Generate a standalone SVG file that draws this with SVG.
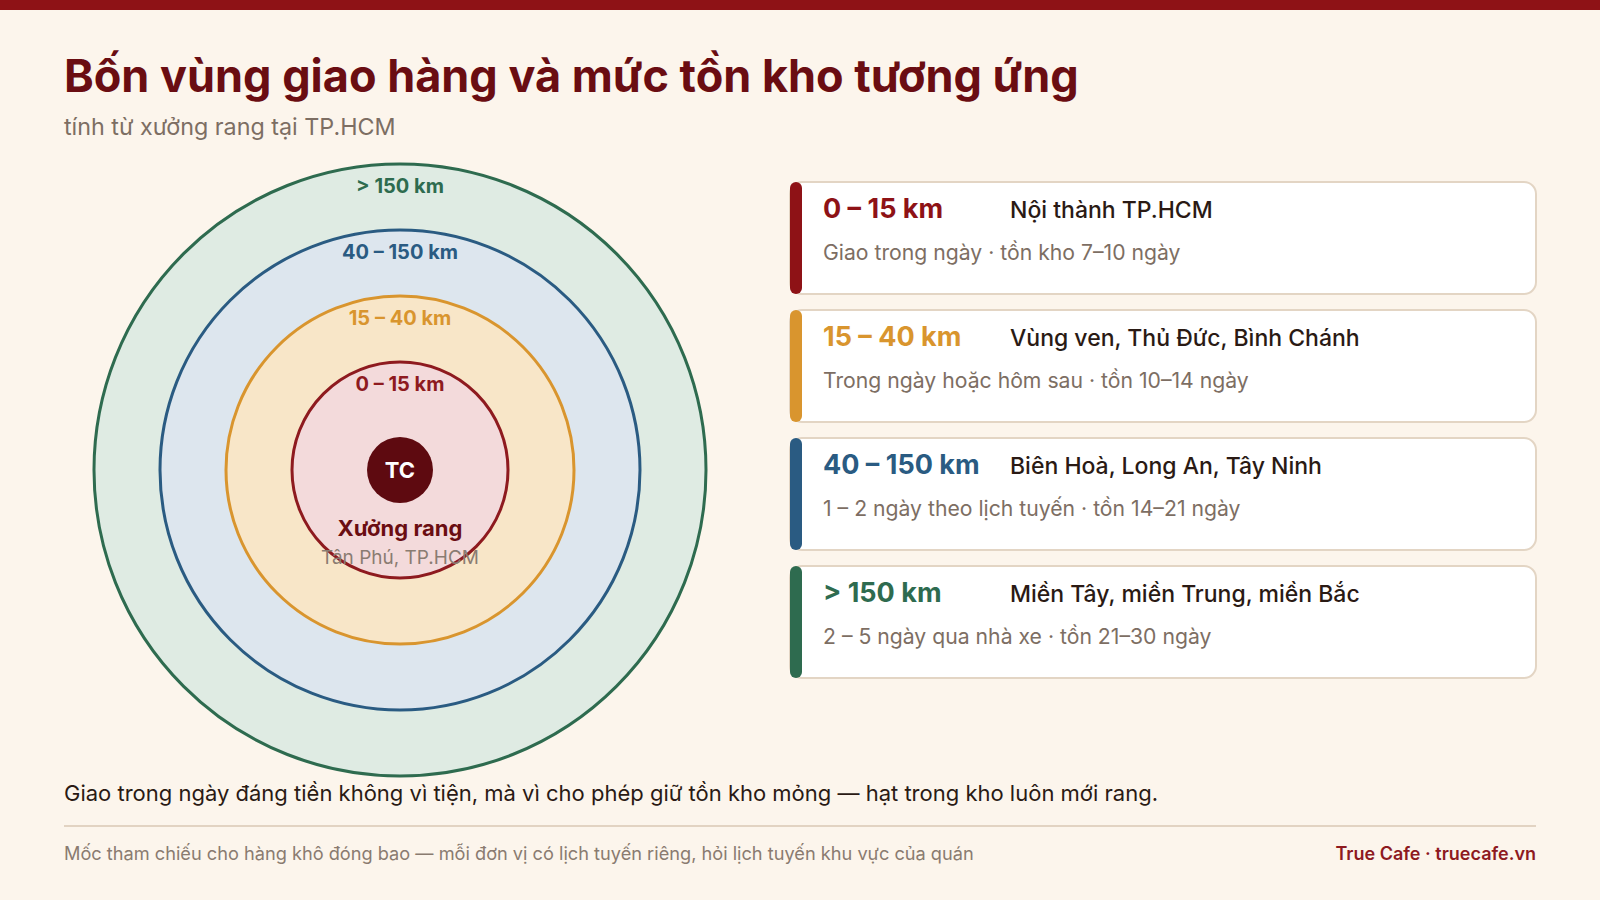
<svg xmlns="http://www.w3.org/2000/svg" width="1600" height="900" viewBox="0 0 1600 900">
  <style>
    text { font-family: Inter, "Liberation Sans", "Noto Sans", sans-serif; }
    .title { font-size: 45px; font-weight: 700; fill: #6a0d12; }
    .sub { font-size: 23.3px; fill: #7d6e63; }
    .ring { font-size: 20px; font-weight: 700; text-anchor: middle; }
    .km { font-size: 27px; font-weight: 700; }
    .name { font-size: 23px; font-weight: 500; fill: #2a1a14; }
    .detail { font-size: 21.2px; fill: #7d6e63; }
    .card { fill: #ffffff; stroke: #e3d5c4; stroke-width: 2; }
    .stmt { font-size: 22px; fill: #2a1a14; }
    .foot { font-size: 18.2px; fill: #8a7b70; }
    .brand { font-size: 18px; font-weight: 600; fill: #8e1a1f; text-anchor: end; }
  </style>
  <rect x="0" y="0" width="1600" height="900" fill="#fcf5ec"/>
  <rect x="0" y="0" width="1600" height="10" fill="#8e1216"/>

  <text class="title" x="64" y="92">Bốn vùng giao hàng và mức tồn kho tương ứng</text>
  <text class="sub" x="64" y="135">tính từ xưởng rang tại TP.HCM</text>

  <g id="zone-far">
    <circle cx="400" cy="470" r="306" fill="#dfebe3" stroke="#2e6b4f" stroke-width="3"/>
    <text class="ring" x="400" y="193" fill="#2e6b4f">&gt; 150 km</text>
  </g>
  <g id="zone-region">
    <circle cx="400" cy="470" r="240" fill="#dde6ee" stroke="#2a5b82" stroke-width="3"/>
    <text class="ring" x="400" y="259" fill="#2a5b82">40 – 150 km</text>
  </g>
  <g id="zone-suburb">
    <circle cx="400" cy="470" r="174" fill="#f8e6c8" stroke="#d9952e" stroke-width="3"/>
    <text class="ring" x="400" y="325" fill="#d9952e">15 – 40 km</text>
  </g>
  <g id="zone-inner">
    <circle cx="400" cy="470" r="108" fill="#f3dadb" stroke="#8e1a1f" stroke-width="3"/>
    <text class="ring" x="400" y="391" fill="#8e1a1f">0 – 15 km</text>
  </g>
  <g id="roastery">
    <circle cx="400" cy="470" r="33" fill="#5e0a10"/>
    <text x="400" y="478" font-size="22" font-weight="700" fill="#ffffff" text-anchor="middle">TC</text>
    <text x="400" y="536" font-size="22" font-weight="700" fill="#6a0d12" text-anchor="middle">Xưởng rang</text>
    <text x="400" y="564" font-size="19" fill="#8a7c72" text-anchor="middle">Tân Phú, TP.HCM</text>
  </g>

  <g id="card-1">
    <rect class="card" x="790" y="182" width="746" height="112" rx="12"/>
    <rect x="790" y="182" width="12" height="112" rx="6" fill="#8e1216"/>
    <text class="km" x="823" y="218" fill="#8e1216">0 – 15 km</text>
    <text class="name" x="1010" y="218">Nội thành TP.HCM</text>
    <text class="detail" x="823" y="260">Giao trong ngày · tồn kho 7–10 ngày</text>
  </g>
  <g id="card-2">
    <rect class="card" x="790" y="310" width="746" height="112" rx="12"/>
    <rect x="790" y="310" width="12" height="112" rx="6" fill="#d9952e"/>
    <text class="km" x="823" y="346" fill="#d9952e">15 – 40 km</text>
    <text class="name" x="1010" y="346">Vùng ven, Thủ Đức, Bình Chánh</text>
    <text class="detail" x="823" y="388">Trong ngày hoặc hôm sau · tồn 10–14 ngày</text>
  </g>
  <g id="card-3">
    <rect class="card" x="790" y="438" width="746" height="112" rx="12"/>
    <rect x="790" y="438" width="12" height="112" rx="6" fill="#2a5b82"/>
    <text class="km" x="823" y="474" fill="#2a5b82">40 – 150 km</text>
    <text class="name" x="1010" y="474">Biên Hoà, Long An, Tây Ninh</text>
    <text class="detail" x="823" y="516">1 – 2 ngày theo lịch tuyến · tồn 14–21 ngày</text>
  </g>
  <g id="card-4">
    <rect class="card" x="790" y="566" width="746" height="112" rx="12"/>
    <rect x="790" y="566" width="12" height="112" rx="6" fill="#2e6b4f"/>
    <text class="km" x="823" y="602" fill="#2e6b4f">&gt; 150 km</text>
    <text class="name" x="1010" y="602">Miền Tây, miền Trung, miền Bắc</text>
    <text class="detail" x="823" y="644">2 – 5 ngày qua nhà xe · tồn 21–30 ngày</text>
  </g>

  <g id="connectors"></g>

  <text class="stmt" x="64" y="801">Giao trong ngày đáng tiền không vì tiện, mà vì cho phép giữ tồn kho mỏng — hạt trong kho luôn mới rang.</text>
  <line x1="64" y1="826" x2="1536" y2="826" stroke="#e2d3c2" stroke-width="2"/>
  <text class="foot" x="64" y="860">Mốc tham chiếu cho hàng khô đóng bao — mỗi đơn vị có lịch tuyến riêng, hỏi lịch tuyến khu vực của quán</text>
  <text class="brand" x="1536" y="860">True Cafe · truecafe.vn</text>
</svg>
